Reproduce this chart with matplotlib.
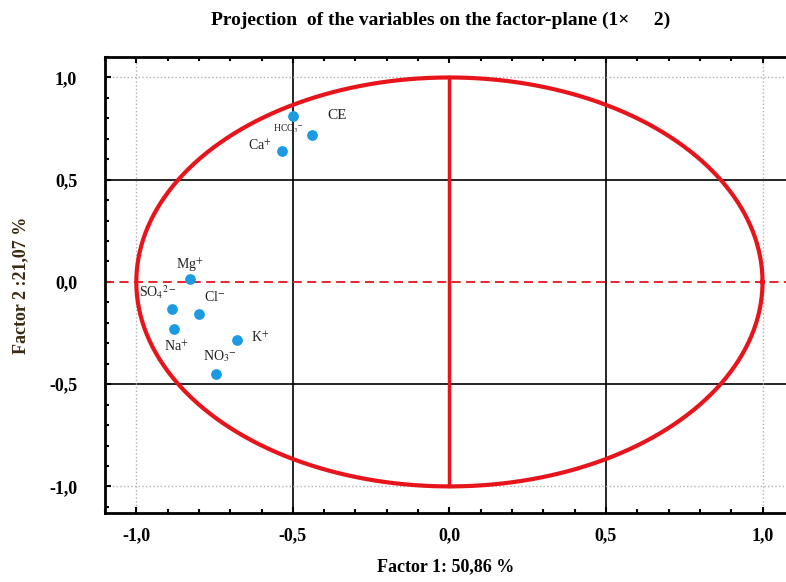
import numpy as np
import matplotlib.pyplot as plt
from matplotlib.ticker import MultipleLocator, FuncFormatter

# variable coordinates on factor 1 / factor 2
labels = ["HCO$_3$$^{-}$", "CE", "Ca$^{+}$", "Mg$^{+}$", "SO$_4$$^{2-}$", "Cl$^{-}$",
          "Na$^{+}$", "K$^{+}$", "NO$_3$$^{-}$"]
f1 = [-0.50, -0.44, -0.535, -0.83, -0.885, -0.80, -0.88, -0.68, -0.745]
f2 = [0.81, 0.72, 0.64, 0.015, -0.13, -0.155, -0.23, -0.285, -0.45]
# label offsets in points (dx, dy)
offsets = [(-3, -9), (18, 14), (-16, 4), (0, 10), (-10, 12), (11, 12), (2, -13), (17, 2), (3, 13)]
label_sizes = [7, 11, 10, 10, 10, 10, 10, 10, 10]

plt.rcParams['font.family'] = ['Liberation Serif', 'DejaVu Serif']
plt.rcParams['mathtext.fontset'] = 'stix'

fig = plt.figure(figsize=(7.86, 5.82), dpi=100)
ax = fig.add_axes([0.1336, 0.1186, 0.8664, 0.7834])

ax.set_xlim(-1.1, 1.075)
ax.set_ylim(-1.13, 1.1)

# reference lines
for v in [-0.5, 0.5]:
    ax.axvline(v, color='black', lw=1.2, zorder=1)
    ax.axhline(v, color='black', lw=1.2, zorder=1)
for v in [-1.0, 1.0]:
    ax.axvline(v, color='#b0b0b0', lw=1, ls=':', zorder=1)
    ax.axhline(v, color='#b0b0b0', lw=1, ls=':', zorder=1)

# unit circle
t = np.linspace(0, 2 * np.pi, 400)
ax.plot(np.cos(t), np.sin(t), color='#e8141c', lw=3, zorder=2)
ax.plot([0, 0], [-1, 1], color='#e8141c', lw=2.5, zorder=2)
ax.axhline(0, color='#e8141c', lw=1.3, ls=(0, (5, 3)), zorder=2)

ax.scatter(f1, f2, s=45, color='#1c9be2', zorder=3)
for lab, x, y, (dx, dy), fs in zip(labels, f1, f2, offsets, label_sizes):
    ax.annotate(lab, (x, y), xytext=(dx, dy), textcoords='offset points',
                ha='center', va='center', fontsize=fs, color='#222222', zorder=4)

fmt = FuncFormatter(lambda v, p: f"{v:.1f}".replace('.', ','))
ax.xaxis.set_major_locator(MultipleLocator(0.5))
ax.yaxis.set_major_locator(MultipleLocator(0.5))
ax.xaxis.set_minor_locator(MultipleLocator(0.1))
ax.yaxis.set_minor_locator(MultipleLocator(0.1))
ax.xaxis.set_major_formatter(fmt)
ax.yaxis.set_major_formatter(fmt)
ax.tick_params(which='both', direction='in', top=True, width=1.5)
ax.tick_params(which='major', length=4)
ax.tick_params(which='minor', length=3)
ax.tick_params(axis='x', pad=10, labelsize=13)
ax.tick_params(axis='y', pad=20, labelsize=13)
for lab in ax.get_xticklabels() + ax.get_yticklabels():
    lab.set_fontweight('bold')

for s in ['left', 'bottom', 'top']:
    ax.spines[s].set_linewidth(2)
ax.spines['right'].set_visible(False)

ax.set_xlabel("Factor 1: 50,86 %", fontsize=13, fontweight='bold', labelpad=10)
ax.set_ylabel("Factor 2 :21,07 %", fontsize=13, fontweight='bold', labelpad=14,
              color='#3a2a12')
fig.text(0.56, 0.965, "Projection  of the variables on the factor-plane (1\u00d7     2)",
         ha='center', va='center', fontsize=14, fontweight='bold')

fig.savefig("out.png", dpi=100)
